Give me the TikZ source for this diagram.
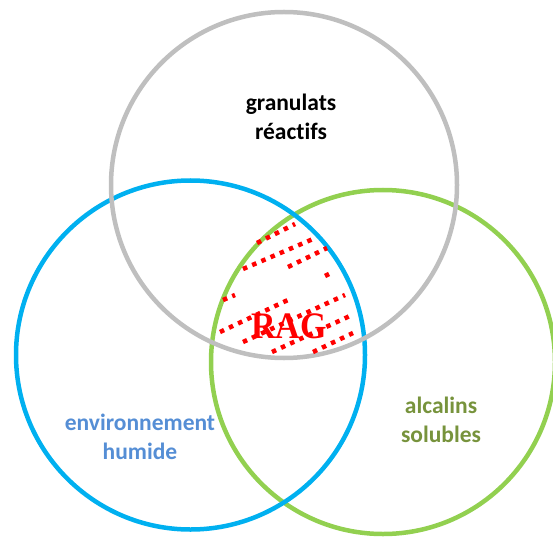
\documentclass[tikz,border=0pt]{standalone}
\usepackage{fontspec}
\setmainfont[Ligatures=NoCommon]{Carlito}
\newfontfamily\ragfont{Liberation Serif}
\definecolor{ringgray}{HTML}{BFBFBF}
\definecolor{ringblue}{HTML}{00B0F0}
\definecolor{ringgreen}{HTML}{92D050}
\definecolor{txtblue}{HTML}{558ED5}
\definecolor{txtgreen}{HTML}{77933C}
\begin{document}
\begin{tikzpicture}[x=1pt,y=-1pt,
  ring/.style={line width=4.5pt},
  hatch/.style={red,line width=4.5pt,dash pattern=on 4.5pt off 5.5pt},
  lbl/.style={font=\bfseries\fontsize{23.5}{29}\selectfont,align=center,inner sep=0pt}]
\useasboundingbox (0,0) rectangle (553,537);
\coordinate (cg) at (284,185);
\coordinate (cb) at (190.5,355);
\coordinate (cv) at (383,362);
\draw[ring,ringgreen] (cv) circle[radius=172];
\draw[ring,ringblue] (cb) circle[radius=174.5];
\draw[ring,ringgray] (cg) circle[radius=173];
% hatching
\draw[hatch] (257,243) -- (295,224);
\draw[hatch] (243,269) -- (313,239);
\draw[hatch] (288,267) -- (327,248);
\draw[hatch] (325,276) -- (329,274);
\draw[hatch] (223,300) -- (235,295);
\draw[hatch] (220,332) -- (290,299);
\draw[hatch] (243,342) -- (345,295);
\draw[hatch] (272,352) -- (352,315);
\draw[hatch] (313,352) -- (353,333);
\node[lbl] (gr) at (291,117) {granulats\\réac\kern0pt tifs};
\node[lbl,txtblue] (env) at (140,437) {environnement\\humide};
\node[lbl,txtgreen] (alc) at (441,420) {alcalins\\solubles};
\node[red,inner sep=0pt,yscale=1.1,font=\ragfont\bfseries\fontsize{34}{34}\selectfont] (rag) at (289,326) {RAG};
\end{tikzpicture}
\end{document}
